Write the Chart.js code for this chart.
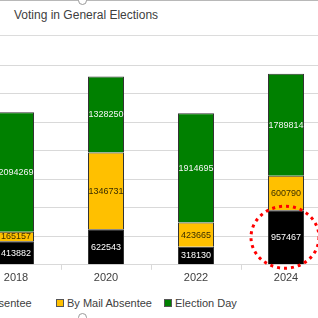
<!DOCTYPE html>
<html>
<head>
<meta charset="utf-8">
<script src="https://cdn.jsdelivr.net/npm/chart.js@4.4.1/dist/chart.umd.min.js"></script>
<style>
  html, body { margin: 0; padding: 0; background: #fff; }
  #wrap { position: relative; width: 318px; height: 318px; overflow: hidden; font-family: "Liberation Sans", Arial, sans-serif; }
  #frameTop { position: absolute; left: 0; top: 0; width: 318px; height: 1px; background: #b8b8b8; }
  #sep { position: absolute; left: 0; top: 35px; width: 318px; height: 1px; background: #dcdcdc; }
  .handle { position: absolute; width: 7px; height: 7px; border: 1px solid #9a9a9a; border-radius: 50%; background: #fff; }
  #title { position: absolute; left: 14px; top: 8px; font-size: 12px; color: #404040; white-space: nowrap; }
  #chartBox { position: absolute; left: -40px; top: 40px; width: 380px; height: 247px; }
  .legend-item { position: absolute; top: 297px; font-size: 11px; color: #404040; white-space: nowrap; display: flex; align-items: center; }
  .legend-item span.box { display: inline-block; width: 6px; height: 6px; border: 1px solid #555; margin-right: 3px; }
</style>
</head>
<body>
<div id="wrap">
  <div id="frameTop"></div>
  <div class="handle" style="left:78px;top:-4px"></div>
  <div class="handle" style="left:78px;top:313px"></div>
  <div id="title">Voting in General Elections</div>
  <div id="sep"></div>
  <div id="chartBox"><canvas id="chart"></canvas></div>
  <div id="legend"></div>
</div>
<script>
// chart values
const years = ["2018", "2020", "2022", "2024"];
const inPersonAbsentee = [413882, 622543, 318130, 957467];
const byMailAbsentee = [165157, 1346731, 423665, 600790];
const electionDay = [2094269, 1328250, 1914695, 1789814];
const seriesNames = ["In-Person Absentee", "By Mail Absentee", "Election Day"];
const seriesColors = ["#000000", "#FFC000", "#008000"];
const labelColors = ["#ffffff", "#3a2e00", "#f4f4f4"];
const yMax = 3500000;
const yStep = 500000;

// Legend (partly cut off on the left, like the reference)
const legendLeft = [-76, 56, 164];
const legendDiv = document.getElementById("legend");
seriesNames.forEach((name, i) => {
  const item = document.createElement("div");
  item.className = "legend-item";
  item.style.left = legendLeft[i] + "px";
  const box = document.createElement("span");
  box.className = "box";
  box.style.background = seriesColors[i];
  item.appendChild(box);
  item.appendChild(document.createTextNode(name));
  legendDiv.appendChild(item);
});

// Value labels in the middle of each segment
const segmentLabels = {
  id: "segmentLabels",
  afterDatasetsDraw(chart) {
    const ctx = chart.ctx;
    ctx.save();
    ctx.font = "9px 'Liberation Sans', Arial, sans-serif";
    ctx.textAlign = "center";
    ctx.textBaseline = "middle";
    chart.data.datasets.forEach((ds, di) => {
      const meta = chart.getDatasetMeta(di);
      meta.data.forEach((bar, i) => {
        const y = (bar.y + bar.base) / 2;
        ctx.fillStyle = labelColors[di];
        ctx.fillText(ds.data[i], bar.x, y + 0.5);
      });
    });
    ctx.restore();
  },
};

// Red dotted ring around the 2024 in-person segment
const highlightRing = {
  id: "highlightRing",
  afterDraw(chart) {
    const bar = chart.getDatasetMeta(0).data[3];
    if (!bar) return;
    const ctx = chart.ctx;
    const cy = (bar.y + bar.base) / 2;
    ctx.save();
    ctx.strokeStyle = "#ff0000";
    ctx.lineWidth = 3;
    ctx.setLineDash([3, 4]);
    ctx.beginPath();
    ctx.ellipse(bar.x - 1, cy, 34, 31, 0, 0, Math.PI * 2);
    ctx.stroke();
    ctx.restore();
  },
};

new Chart(document.getElementById("chart"), {
  type: "bar",
  data: {
    labels: years,
    datasets: [
      { label: seriesNames[0], data: inPersonAbsentee, backgroundColor: seriesColors[0] },
      { label: seriesNames[1], data: byMailAbsentee, backgroundColor: seriesColors[1] },
      { label: seriesNames[2], data: electionDay, backgroundColor: seriesColors[2] },
    ].map((d) => ({
      ...d,
      borderColor: "#333333",
      borderWidth: 1,
      categoryPercentage: 1,
      barPercentage: 0.4,
    })),
  },
  options: {
    responsive: true,
    maintainAspectRatio: false,
    animation: false,
    layout: { padding: { left: 11, right: 9, top: 25, bottom: 0 } },
    plugins: {
      legend: { display: false },
      tooltip: { enabled: false },
    },
    scales: {
      x: {
        stacked: true,
        grid: {
          drawOnChartArea: false,
          drawTicks: true,
          tickLength: 5,
          color: "#d9d9d9",
        },
        border: { color: "#d9d9d9" },
        ticks: {
          color: "#404040",
          font: { size: 11, family: "'Liberation Sans', Arial, sans-serif" },
          padding: 2,
        },
      },
      y: {
        stacked: true,
        min: 0,
        max: yMax,
        ticks: { display: false, stepSize: yStep },
        grid: { color: "#d9d9d9", drawTicks: false },
        border: { display: false },
      },
    },
  },
  plugins: [segmentLabels, highlightRing],
});
</script>
</body>
</html>
